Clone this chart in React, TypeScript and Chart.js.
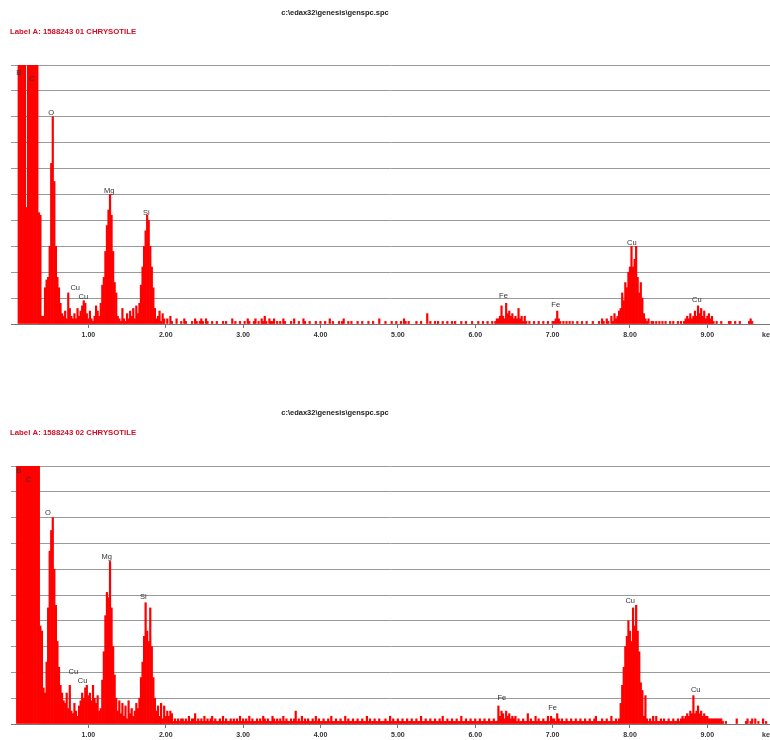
import { useEffect, useRef } from 'react';
import { Chart, registerables } from 'chart.js';

Chart.register(...registerables);

// ---- data (counts as % of full scale, one value per 0.02 keV channel) ----
const CHANNEL_KEV = 0.02;
const X_MAX_KEV = 9.81;
const xTickValues = [1, 2, 3, 4, 5, 6, 7, 8, 9];

const fileName = 'c:\\edax32\\genesis\\genspc.spc';
const topSampleLabel = 'Label A: 1588243 01 CHRYSOTILE';
const bottomSampleLabel = 'Label A: 1588243 02 CHRYSOTILE';

// top spectrum, 0.00 - 2.00 keV
const topLowStart = 0.0;
const topLow = [
  0, 0, 0, 0, 0, 130, 130, 130, 130, 110,
  45, 130, 130, 130, 130, 130, 130, 130, 43, 42,
  3, 3, 14, 17, 18, 30, 62, 80, 55, 30,
  18, 14, 8, 4, 3, 5, 2, 12, 6, 3,
  2, 4, 2, 6, 3, 5, 7, 9, 8, 4,
  2, 5, 2, 1, 3, 7, 5, 3, 8, 15,
  18, 28, 38, 44, 50, 42, 28, 16, 12, 3,
  2, 1, 6, 2, 1, 4, 2, 5, 3, 6,
  2, 7, 4, 8, 15, 22, 30, 36, 42, 40,
  30, 22, 14, 6, 2, 3, 5, 1, 4, 2,
  0,
];
// top spectrum, 2.02 - 9.80 keV
const topHighStart = 2.02;
const topHigh = [
  2, 0, 3, 1, 0, 0, 2, 0, 0, 1, 0, 2, 1, 0, 0, 0, 1, 0, 2, 1, 0, 1, 2, 1, 0, 2, 1, 0, 0, 1, 0, 0, 1, 0, 0, 0, 1, 0, 1, 0, 0, 0, 2, 0, 1, 0, 0, 1, 0, 0,
  1, 0, 2, 1, 0, 0, 1, 2, 0, 1, 0, 2, 1, 3, 1, 0, 2, 1, 1, 2, 0, 1, 0, 1, 0, 2, 1, 0, 0, 0, 1, 0, 2, 0, 0, 1, 0, 0, 2, 1, 0, 0, 1, 0, 0, 0, 1, 0, 0, 1,
  0, 0, 1, 0, 0, 2, 0, 1, 0, 0, 0, 1, 0, 1, 2, 0, 0, 1, 0, 1, 0, 0, 0, 1, 0, 0, 1, 0, 0, 0, 1, 0, 0, 1, 0, 0, 0, 2, 0, 0, 0, 1, 0, 0, 0, 1, 0, 0, 1, 0,
  0, 1, 0, 2, 1, 0, 1, 0, 0, 0, 0, 1, 0, 0, 1, 0, 0, 0, 4, 0, 1, 0, 0, 1, 0, 1, 0, 0, 1, 0, 0, 1, 0, 0, 1, 0, 1, 0, 0, 0, 1, 0, 0, 1, 0, 0, 0, 1, 0, 0,
  0, 1, 0, 0, 1, 0, 0, 1, 0, 0, 1, 0, 1, 2, 2, 3, 7, 3, 2, 8, 4, 5, 3, 4, 2, 3, 2, 6, 2, 3, 1, 3, 1, 0, 1, 0, 0, 1, 0, 0, 1, 0, 0, 1, 0, 0, 1, 0, 0, 1,
  1, 2, 5, 2, 1, 0, 1, 0, 1, 0, 1, 0, 1, 0, 0, 1, 0, 0, 1, 0, 0, 1, 0, 0, 0, 1, 0, 0, 0, 1, 0, 2, 1, 0, 2, 1, 0, 3, 1, 4, 2, 3, 5, 6, 12, 9, 16, 14, 20, 22,
  30, 22, 25, 30, 18, 12, 16, 10, 4, 2, 1, 2, 0, 1, 1, 0, 1, 0, 1, 0, 1, 0, 1, 0, 0, 1, 0, 1, 0, 0, 1, 0, 1, 0, 1, 2, 3, 2, 4, 2, 3, 5, 3, 7, 4, 6, 3, 5, 2, 3,
  4, 2, 3, 1, 0, 1, 0, 0, 1, 0, 0, 0, 0, 1, 1, 0, 0, 1, 0, 0, 1, 0, 0, 0, 0, 0, 1, 2, 1, 0, 0, 0, 0, 0, 0, 0, 0, 0, 0, 0,
];

// bottom spectrum, 0.00 - 2.00 keV
const bottomLowStart = 0.0;
const bottomLow = [
  0, 0, 0, 0, 130, 130, 130, 130, 130, 130,
  130, 130, 130, 130, 130, 130, 130, 130, 130, 38,
  36, 14, 12, 24, 45, 67, 75, 80, 60, 46,
  32, 22, 15, 12, 9, 8, 12, 6, 15, 5,
  4, 8, 5, 3, 7, 9, 12, 10, 14, 15,
  11, 12, 9, 15, 10, 8, 11, 5, 6, 17,
  28, 42, 51, 49, 63, 45, 30, 19, 10, 5,
  9, 4, 8, 3, 7, 2, 9, 4, 6, 3,
  5, 8, 6, 10, 18, 24, 34, 47, 36, 32,
  45, 30, 18, 10, 5, 7, 3, 8, 2, 7,
  3,
];
// bottom spectrum, 2.02 - 9.80 keV
const bottomHighStart = 2.02;
const bottomHigh = [
  5, 3, 5, 4, 1, 2, 1, 2, 1, 2, 2, 1, 2, 1, 3, 1, 2, 2, 4, 1, 2, 1, 2, 1, 3, 1, 2, 1, 2, 3, 1, 2, 1, 1, 2, 1, 3, 1, 2, 1, 1, 2, 1, 2, 1, 2, 1, 3, 1, 2,
  1, 2, 1, 3, 1, 2, 1, 1, 2, 1, 2, 1, 3, 2, 1, 2, 1, 1, 3, 2, 1, 2, 1, 2, 1, 3, 1, 2, 1, 1, 2, 1, 2, 5, 1, 2, 1, 3, 1, 2, 1, 2, 1, 1, 2, 1, 3, 1, 2, 1,
  1, 2, 1, 1, 2, 1, 3, 1, 1, 2, 1, 1, 2, 1, 1, 3, 1, 2, 1, 1, 2, 1, 1, 2, 1, 1, 2, 1, 1, 3, 1, 2, 1, 1, 2, 1, 1, 2, 1, 1, 1, 2, 1, 1, 3, 1, 2, 1, 1, 2,
  1, 1, 2, 1, 1, 2, 1, 1, 2, 1, 1, 2, 1, 1, 3, 1, 1, 2, 1, 1, 2, 1, 1, 2, 1, 1, 2, 1, 3, 1, 1, 2, 1, 1, 2, 1, 1, 2, 1, 1, 3, 1, 1, 2, 1, 1, 2, 1, 1, 2,
  1, 1, 2, 1, 1, 2, 1, 1, 2, 1, 1, 2, 1, 1, 7, 3, 5, 4, 2, 5, 3, 4, 2, 3, 2, 3, 1, 2, 1, 1, 2, 1, 1, 4, 1, 2, 1, 1, 3, 1, 2, 1, 1, 2, 1, 1, 3, 1, 3, 2,
  2, 1, 4, 2, 1, 2, 1, 1, 2, 1, 1, 2, 1, 1, 2, 1, 1, 2, 1, 1, 2, 1, 1, 2, 1, 1, 2, 3, 1, 1, 1, 2, 1, 1, 2, 1, 1, 3, 1, 1, 2, 1, 2, 8, 15, 22, 30, 34, 40, 36,
  32, 45, 38, 46, 36, 28, 16, 13, 3, 11, 2, 1, 2, 1, 3, 1, 3, 1, 1, 2, 1, 2, 1, 1, 2, 1, 1, 2, 1, 1, 2, 1, 2, 3, 2, 3, 4, 3, 5, 4, 11, 4, 5, 7, 4, 5, 3, 4, 3, 3,
  2, 2, 2, 2, 2, 2, 2, 2, 2, 1, 0, 1, 0, 0, 0, 0, 0, 0, 2, 0, 0, 0, 0, 0, 1, 2, 0, 1, 2, 0, 2, 0, 1, 0, 0, 2, 0, 1, 0, 0,
];

// peak identification labels: element, energy (keV) and height (% of full scale)
const topPeakNames = ['B', 'C', 'O', 'Cu', 'Cu', 'Mg', 'Si', 'Fe', 'Fe', 'Cu', 'Cu'];
const topPeakKev = [0.1, 0.27, 0.52, 0.83, 0.935, 1.27, 1.75, 6.365, 7.04, 8.025, 8.865];
const topPeakHeight = [97, 94.6, 81.5, 13.8, 10.5, 51.4, 43, 10.8, 7.3, 31.4, 9.3];

const bottomPeakNames = ['B', 'C', 'O', 'Cu', 'Cu', 'Mg', 'Si', 'Fe', 'Fe', 'Cu', 'Cu'];
const bottomPeakKev = [0.1, 0.225, 0.478, 0.805, 0.925, 1.237, 1.71, 6.345, 7.0, 8.003, 8.85];
const bottomPeakHeight = [98, 94.6, 82, 20.3, 16.7, 64.8, 49.3, 10, 6.1, 47.8, 13.2];

// ---- rendering ----
const FONT = 'Arial, "Liberation Sans", sans-serif';

type Segment = [number, number[]];

function buildPoints(segments: Segment[]) {
  const pts: { x: number; y: number }[] = [];
  for (const [start, values] of segments) {
    values.forEach((v, i) => {
      if (v > 0) pts.push({ x: Math.round((start + i * CHANNEL_KEV) * 100) / 100, y: v });
    });
  }
  return pts;
}

interface PanelProps {
  segments: Segment[];
  names: string[];
  kev: number[];
  heights: number[];
  sampleLabel: string;
  padTop: number;
  padBottom: number;
  titleY: number;
  labelY: number;
}

function SpectrumPanel(p: PanelProps) {
  const ref = useRef<HTMLCanvasElement | null>(null);
  useEffect(() => {
    if (!ref.current) return;
    const textPlugin = {
      id: 'spectrumText',
      afterDraw(chart: any) {
        const ctx = chart.ctx;
        const xs = chart.scales.x;
        const ys = chart.scales.y;
        ctx.save();
        ctx.textBaseline = 'middle';
        // file name & sample label
        ctx.font = `bold 7.5px ${FONT}`;
        ctx.fillStyle = '#222';
        ctx.textAlign = 'center';
        ctx.fillText(fileName, 335, p.titleY);
        ctx.font = `bold 7.8px ${FONT}`;
        ctx.fillStyle = '#d0102a';
        ctx.textAlign = 'left';
        ctx.fillText(p.sampleLabel, 10, p.labelY);
        // peak labels
        ctx.font = `7.5px ${FONT}`;
        ctx.fillStyle = '#333';
        ctx.textAlign = 'center';
        p.names.forEach((n, i) => {
          ctx.fillText(n, xs.getPixelForValue(p.kev[i]), ys.getPixelForValue(p.heights[i]));
        });
        // unit at axis end
        ctx.font = `bold 7px ${FONT}`;
        ctx.fillStyle = '#333';
        ctx.textAlign = 'left';
        ctx.fillText('keV', 762, chart.chartArea.bottom + 11.5);
        ctx.restore();
      },
    };
    const chart = new Chart(ref.current, {
      type: 'bar',
      data: {
        datasets: [
          {
            data: buildPoints(p.segments) as any,
            backgroundColor: '#ff0000',
            borderWidth: 0,
            barPercentage: 1,
            categoryPercentage: 1,
            grouped: false,
          },
        ],
      },
      options: {
        animation: false,
        responsive: false,
        layout: { padding: { top: p.padTop, left: 11, right: 0, bottom: p.padBottom } },
        plugins: { legend: { display: false }, tooltip: { enabled: false } },
        scales: {
          x: {
            type: 'linear',
            min: 0,
            max: X_MAX_KEV,
            offset: false,
            afterBuildTicks: (axis: any) => {
              axis.ticks = xTickValues.map((v) => ({ value: v }));
            },
            afterFit: (axis: any) => {
              axis.height = 16;
            },
            ticks: {
              autoSkip: false,
              maxRotation: 0,
              padding: 3,
              color: '#333',
              font: { size: 7, weight: 'bold', family: FONT },
              callback: (v: any) => Number(v).toFixed(2),
            },
            grid: { offset: false, drawOnChartArea: false, drawTicks: true, tickLength: 4, color: '#777' },
            border: { display: true, color: '#777', width: 1 },
          },
          y: {
            min: 0,
            max: 100,
            ticks: { display: false, stepSize: 10 },
            grid: { color: '#999', drawTicks: false, lineWidth: 1 },
            border: { display: false },
          },
        },
      },
      plugins: [textPlugin],
    });
    return () => chart.destroy();
  }, []);
  return <canvas ref={ref} width={770} height={370} style={{ display: 'block', width: 770, height: 370 }} />;
}

export default function App() {
  return (
    <div style={{ position: 'absolute', left: 0, top: 0, width: 770, height: 740, background: '#fff' }}>
      <SpectrumPanel
        segments={[[topLowStart, topLow], [topHighStart, topHigh]]}
        names={topPeakNames}
        kev={topPeakKev}
        heights={topPeakHeight}
        sampleLabel={topSampleLabel}
        padTop={65}
        padBottom={30}
        titleY={13}
        labelY={31.7}
      />
      <SpectrumPanel
        segments={[[bottomLowStart, bottomLow], [bottomHighStart, bottomHigh]]}
        names={bottomPeakNames}
        kev={bottomPeakKev}
        heights={bottomPeakHeight}
        sampleLabel={bottomSampleLabel}
        padTop={96}
        padBottom={0}
        titleY={43}
        labelY={62.5}
      />
    </div>
  );
}
